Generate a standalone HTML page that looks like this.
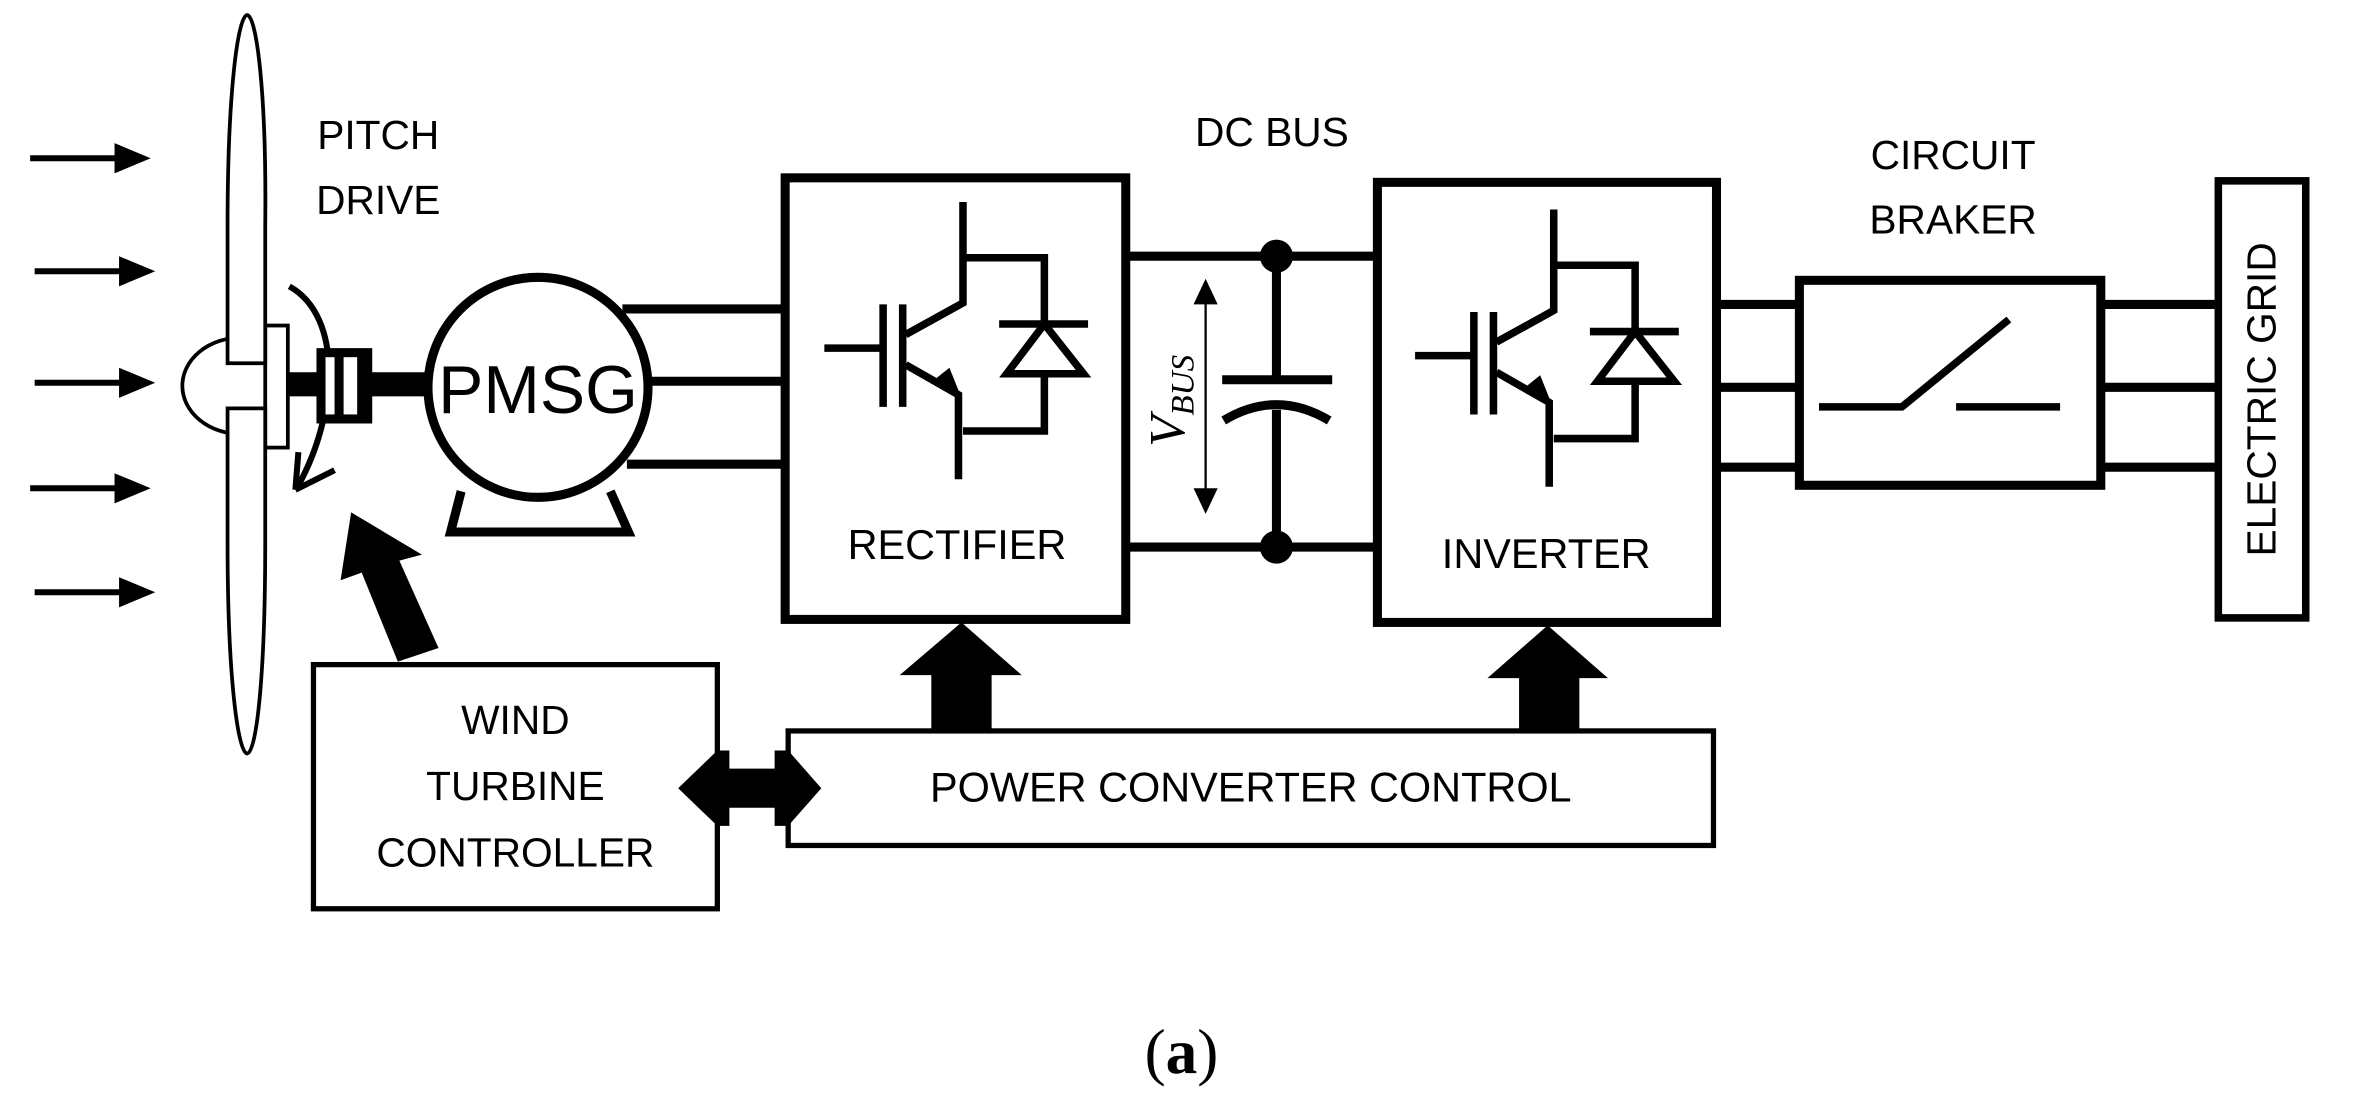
<!DOCTYPE html>
<html><head><meta charset="utf-8"><style>
html,body{margin:0;padding:0;background:#fff;}
svg{display:block;}
text{font-family:"Liberation Sans",sans-serif;fill:#000;}
</style></head><body>
<svg width="2363" height="1119" viewBox="0 0 1568 742.5" preserveAspectRatio="none">
<g stroke="#000" stroke-width="4" fill="#000">
<line x1="20" y1="105" x2="78" y2="105"/><path d="M76,95 L100,105 L76,115z" stroke="none"/>
<line x1="23" y1="180" x2="80" y2="180"/><path d="M79,170 L103,180 L79,190z" stroke="none"/>
<line x1="23" y1="254" x2="80" y2="254"/><path d="M79,244 L103,254 L79,264z" stroke="none"/>
<line x1="20" y1="324" x2="78" y2="324"/><path d="M76,314 L100,324 L76,334z" stroke="none"/>
<line x1="23" y1="393" x2="80" y2="393"/><path d="M79,383 L103,393 L79,403z" stroke="none"/>
</g>
<path d="M160,224 A39,32 0 0 0 160,288" fill="#fff" stroke="#000" stroke-width="2.5"/>
<rect x="176" y="216" width="15" height="81" fill="#fff" stroke="#000" stroke-width="2.5"/>
<path d="M163,241 L151,241 L151,150 C151,60 158,10 164,10 C170,10 177,60 176,150 L176,241 Z" fill="#fff" stroke="#000" stroke-width="2.5"/>
<path d="M151,271 L176,271 L176,360 C176,450 170,500 164,500 C158,500 151,450 151,360 Z" fill="#fff" stroke="#000" stroke-width="2.5"/>
<path d="M192,190 C228,210 224,275 198,322" fill="none" stroke="#000" stroke-width="4"/>
<path d="M196,325 L198,300 M196,325 L222,312" fill="none" stroke="#000" stroke-width="4"/>
<rect x="191" y="247" width="91" height="16" fill="#000"/>
<rect x="210" y="231" width="37" height="50" fill="#000"/>
<rect x="216" y="237" width="6" height="38" fill="#fff"/>
<rect x="228" y="237" width="9" height="38" fill="#fff"/>
<path d="M306,326 L299,353 L417,353 L405,326" fill="none" stroke="#000" stroke-width="6"/>
<ellipse cx="357" cy="257" rx="73" ry="73" fill="#fff" stroke="#000" stroke-width="6"/>
<text x="357" y="274" font-size="45" text-anchor="middle">PMSG</text>
<g stroke="#000" stroke-width="6">
<line x1="413" y1="205" x2="521" y2="205"/>
<line x1="430" y1="253" x2="521" y2="253"/>
<line x1="416" y1="308" x2="521" y2="308"/>
</g>
<text x="251" y="99" font-size="27" text-anchor="middle">PITCH</text>
<text x="251" y="142" font-size="27" text-anchor="middle">DRIVE</text>
<path d="M233,340 L280,368 L265,372 L291,430 L264,439 L240,380 L226,385 Z" fill="#000"/>
<rect x="521" y="118" width="226" height="293" fill="#fff" stroke="#000" stroke-width="6"/>
<g stroke="#000" stroke-width="5" fill="none">
<path d="M639,134 L639,201 L601,222"/>
<path d="M639,171 L693,171 L693,215"/>
<line x1="663" y1="215" x2="722" y2="215"/>
<path d="M693,215 L668,248 L719,248 Z"/>
<path d="M693,249 L693,286 L639,286"/>
<path d="M601,242 L636,262 L636,318"/>
<line x1="586" y1="202" x2="586" y2="270"/>
<line x1="599" y1="202" x2="599" y2="270"/>
<line x1="547" y1="231" x2="586" y2="231"/>
</g>
<path d="M638,264 L620,252 L630,244 Z" fill="#000"/>
<text x="635" y="371" font-size="27.5" text-anchor="middle">RECTIFIER</text>
<rect x="914" y="121" width="225" height="292" fill="#fff" stroke="#000" stroke-width="6"/>
<g transform="translate(392,5)">
<g stroke="#000" stroke-width="5" fill="none">
<path d="M639,134 L639,201 L601,222"/>
<path d="M639,171 L693,171 L693,215"/>
<line x1="663" y1="215" x2="722" y2="215"/>
<path d="M693,215 L668,248 L719,248 Z"/>
<path d="M693,249 L693,286 L639,286"/>
<path d="M601,242 L636,262 L636,318"/>
<line x1="586" y1="202" x2="586" y2="270"/>
<line x1="599" y1="202" x2="599" y2="270"/>
<line x1="547" y1="231" x2="586" y2="231"/>
</g>
<path d="M638,264 L620,252 L630,244 Z" fill="#000"/>
</g>
<text x="1026" y="377" font-size="27.5" text-anchor="middle">INVERTER</text>
<text x="844" y="97" font-size="27" text-anchor="middle">DC BUS</text>
<g stroke="#000" stroke-width="6">
<line x1="747" y1="170" x2="914" y2="170"/>
<line x1="747" y1="363" x2="914" y2="363"/>
<line x1="847" y1="170" x2="847" y2="252"/>
<line x1="847" y1="272" x2="847" y2="363"/>
<line x1="811" y1="252" x2="884" y2="252"/>
</g>
<path d="M812,279 Q847,258 882,279" fill="none" stroke="#000" stroke-width="6"/>
<circle cx="847" cy="170" r="11"/>
<circle cx="847" cy="363" r="11"/>
<line x1="800" y1="195" x2="800" y2="330" stroke="#000" stroke-width="1.5"/>
<path d="M792,202 L800,185 L808,202 Z M792,324 L800,341 L808,324 Z" fill="#000"/>
<text transform="translate(786,266) rotate(-90)" style="font-family:'Liberation Serif',serif;font-style:italic" font-size="34" text-anchor="middle">V<tspan font-size="22" dy="6">BUS</tspan></text>
<g stroke="#000" stroke-width="6">
<line x1="1139" y1="202" x2="1192" y2="202"/>
<line x1="1139" y1="257" x2="1192" y2="257"/>
<line x1="1139" y1="310" x2="1192" y2="310"/>
<line x1="1395" y1="202" x2="1470" y2="202"/>
<line x1="1395" y1="257" x2="1470" y2="257"/>
<line x1="1395" y1="310" x2="1470" y2="310"/>
</g>
<rect x="1194" y="186" width="200" height="136" fill="#fff" stroke="#000" stroke-width="6"/>
<path d="M1207,270 L1262,270 L1333,212" fill="none" stroke="#000" stroke-width="5"/>
<line x1="1298" y1="270" x2="1367" y2="270" stroke="#000" stroke-width="5"/>
<text x="1296" y="112" font-size="27" text-anchor="middle">CIRCUIT</text>
<text x="1296" y="155" font-size="27" text-anchor="middle">BRAKER</text>
<rect x="1472" y="120" width="58" height="290" fill="#fff" stroke="#000" stroke-width="5"/>
<text transform="translate(1510,265) rotate(-90)" font-size="27" text-anchor="middle">ELECTRIC GRID</text>
<rect x="208" y="441" width="268" height="162" fill="#fff" stroke="#000" stroke-width="3.5"/>
<text x="342" y="487" font-size="27" text-anchor="middle">WIND</text>
<text x="342" y="531" font-size="27" text-anchor="middle">TURBINE</text>
<text x="342" y="575" font-size="27" text-anchor="middle">CONTROLLER</text>
<rect x="523" y="485" width="614" height="76" fill="#fff" stroke="#000" stroke-width="3.5"/>
<text x="830" y="532" font-size="27.5" text-anchor="middle">POWER CONVERTER CONTROL</text>
<path d="M450,523 L476,498 L484,498 L484,510 L514,510 L514,498 L523,498 L545,523 L523,548 L514,548 L514,536 L484,536 L484,548 L476,548 Z" fill="#000"/>
<path d="M618,484 L618,448 L597,448 L638,413 L678,448 L658,448 L658,484 Z" fill="#000"/>
<path d="M1008,484 L1008,450 L987,450 L1027,415 L1067,450 L1048,450 L1048,484 Z" fill="#000"/>
<text x="784" y="712" style="font-family:'Liberation Serif',serif" font-size="42" text-anchor="middle">(<tspan font-weight="bold">a</tspan>)</text>
</svg>
</body></html>
